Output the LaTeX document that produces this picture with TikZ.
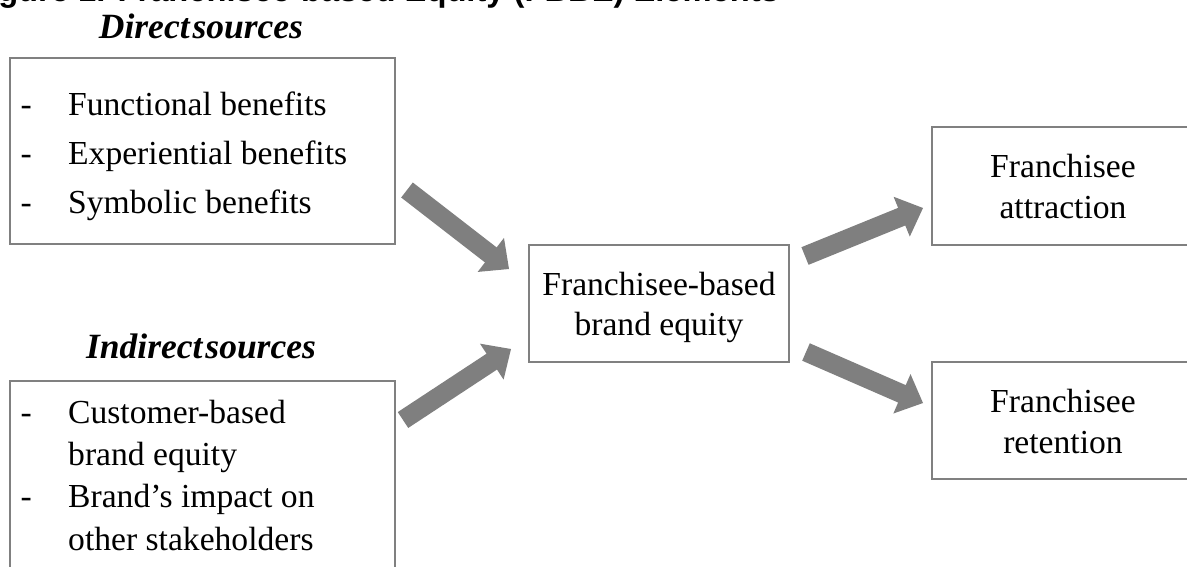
\documentclass[tikz,border=0pt]{standalone}
\usepackage{fontspec}
\setmainfont{Liberation Serif}
\newfontfamily\captionfont{Liberation Sans}
\usetikzlibrary{calc}

\definecolor{framegray}{RGB}{128,128,128}
\definecolor{arrowgray}{RGB}{127,127,127}

% block arrow from a tail point to a tip point
\newcommand{\blockarrow}[3]{%
  \coordinate (#3h) at ($(#2)!23pt!(#1)$);
  \fill[arrowgray]
    ($(#1)!9.5pt!90:(#2)$) -- ($(#3h)!9.5pt!90:(#2)$) -- ($(#3h)!21.5pt!90:(#2)$)
    -- (#2)
    -- ($(#3h)!21.5pt!-90:(#2)$) -- ($(#3h)!9.5pt!-90:(#2)$) -- ($(#1)!9.5pt!-90:(#2)$)
    -- cycle;}

\tikzset{
  box/.style={draw=framegray, line width=1.6pt, rectangle, inner sep=0pt},
  body/.style={inner sep=0pt, font=\fontsize{33.6}{40}\selectfont},
  heading/.style={inner sep=0pt, font=\fontsize{35.5}{40}\selectfont\bfseries\itshape},
  caption/.style={inner sep=0pt, font=\fontsize{32.7}{38}\selectfont\captionfont\bfseries}
}

\begin{document}
\begin{tikzpicture}[x=1pt, y=-1pt]
\useasboundingbox (0,0) rectangle (1187,566);
\begin{scope}
\clip (0,0) rectangle (1187,566);

% caption line, cut by the top edge
\node[caption, anchor=base west] (cap) at (-31,1) {Figure 1. Franchisee-based Equity (FBBE) Elements};

% boxes
\node[box, minimum width=385pt, minimum height=186pt] (direct) at (202.5,151) {};
\node[box, minimum width=385pt, minimum height=199pt] (indirect) at (202.5,480.5) {};
\node[box, minimum width=260pt, minimum height=117pt] (fbbe) at (659,303.5) {};
\node[box, minimum width=262pt, minimum height=118pt] (attr) at (1063,186) {};
\node[box, minimum width=262pt, minimum height=117pt] (ret) at (1063,420.5) {};

% headings
\node[heading, anchor=base] (dhead) at (201,38) {Direct\hspace{3pt}sources};
\node[heading, anchor=base] (ihead) at (201,358) {Indirect\hspace{3pt}sources};

% direct sources
\node[body, anchor=base west] (dd1) at (20.5,115) {-};
\node[body, anchor=base west] (dt1) at (68,115) {Functional benefits};
\node[body, anchor=base west] (dd2) at (20.5,164) {-};
\node[body, anchor=base west] (dt2) at (68,164) {Experiential benefits};
\node[body, anchor=base west] (dd3) at (20.5,213) {-};
\node[body, anchor=base west] (dt3) at (68,213) {Symbolic benefits};

% indirect sources
\node[body, anchor=base west] (id1) at (20.5,423) {-};
\node[body, anchor=base west] (it1) at (68,423) {Customer-based};
\node[body, anchor=base west] (it2) at (68,465) {brand equity};
\node[body, anchor=base west] (id3) at (20.5,507) {-};
\node[body, anchor=base west] (it3) at (68,507) {Brand’s impact on};
\node[body, anchor=base west] (it4) at (68,550) {other stakeholders};

% franchisee-based brand equity
\node[body, anchor=base] (ft1) at (659,295) {Franchisee-based};
\node[body, anchor=base] (ft2) at (659,335) {brand equity};

% outcomes
\node[body, anchor=base] (at1) at (1063,177) {Franchisee};
\node[body, anchor=base] (at2) at (1063,218) {attraction};
\node[body, anchor=base] (rt1) at (1063,412) {Franchisee};
\node[body, anchor=base] (rt2) at (1063,453) {retention};

% arrow end points
\coordinate (a1s) at (407,190);
\coordinate (a1e) at (509,269);
\coordinate (a2s) at (403,420);
\coordinate (a2e) at (511,349);
\coordinate (a3s) at (805,256);
\coordinate (a3e) at (923,208);
\coordinate (a4s) at (806,352);
\coordinate (a4e) at (923,403);

\blockarrow{a1s}{a1e}{a1}
\blockarrow{a2s}{a2e}{a2}
\blockarrow{a3s}{a3e}{a3}
\blockarrow{a4s}{a4e}{a4}
\end{scope}
\end{tikzpicture}
\end{document}
